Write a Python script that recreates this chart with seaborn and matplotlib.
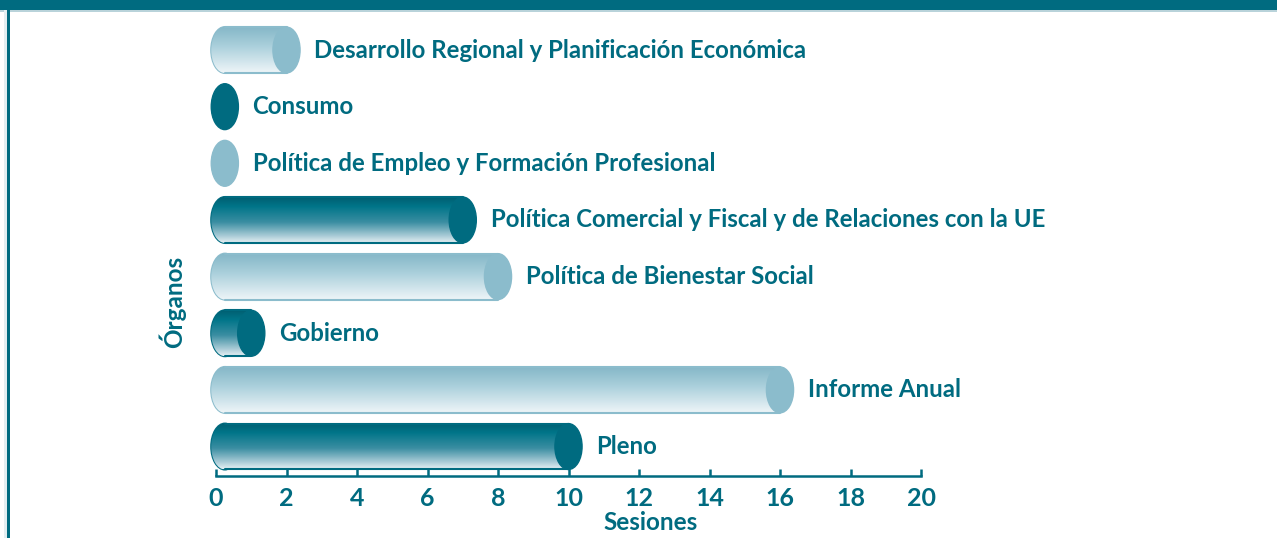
import numpy as np
import pandas as pd
import matplotlib
matplotlib.use("Agg")
import matplotlib.pyplot as plt
import seaborn as sns
from matplotlib.patches import Ellipse, Rectangle
from matplotlib.colors import LinearSegmentedColormap

# datos del gráfico
organos = [
    "Desarrollo Regional y Planificación Económica",
    "Consumo",
    "Política de Empleo y Formación Profesional",
    "Política Comercial y Fiscal y de Relaciones con la UE",
    "Política de Bienestar Social",
    "Gobierno",
    "Informe Anual",
    "Pleno",
]
sesiones = [2, 0, 0, 7, 8, 1, 16, 10]
tonos = ["claro", "oscuro", "claro", "oscuro", "claro", "oscuro", "claro", "oscuro"]
ticks_x = list(range(0, 21, 2))

TEAL = "#006b80"
CLARO = "#8bbccc"

sns.set_theme(style="white")
plt.rcParams["font.family"] = ["Lato", "DejaVu Sans"]

df = pd.DataFrame({"organo": organos, "sesiones": sesiones, "tono": tonos})

XMIN = -0.3
PX = 705 / 20  # píxeles por sesión
izq = 216 + XMIN * PX
fig = plt.figure(figsize=(12.77, 5.38), dpi=100)
ax = fig.add_axes([izq / 1277, 1 - 476 / 538, (921 - izq) / 1277, 456 / 538])

ALTO = 0.81
sns.barplot(data=df, x="sesiones", y="organo", hue="tono", orient="h",
            palette={"claro": CLARO, "oscuro": TEAL}, width=ALTO, dodge=False,
            legend=False, ax=ax)

ax.set_xlim(XMIN, 20)
ax.set_ylim(7.52, -0.53)

# gradientes de los cilindros (oscuro arriba, claro abajo)
grad_oscuro = LinearSegmentedColormap.from_list(
    "osc", [(0, "#005f72"), (0.2, "#007589"), (0.55, "#3b8ea2"), (0.85, "#a9cbd6"), (1, "#e4eff3")])
grad_claro = LinearSegmentedColormap.from_list(
    "cla", [(0, "#86b8c8"), (0.4, "#a9cfdb"), (1, "#eef5f8")])
grad = np.linspace(0, 1, 64).reshape(-1, 1)

X0 = 0.25      # centro del borde izquierdo
ANCHO = 0.77   # ancho de la elipse en unidades de datos

bars = sorted([p for p in ax.patches if isinstance(p, Rectangle)], key=lambda p: p.get_y())
for i, (p, v, t) in enumerate(zip(bars, sesiones, tonos)):
    yc = i
    cmap = grad_oscuro if t == "oscuro" else grad_claro
    borde = TEAL if t == "oscuro" else CLARO
    p.set_visible(False)
    xc = max(v, X0)
    if v > X0:
        # borde izquierdo
        el = Ellipse((X0, yc), ANCHO, ALTO, facecolor="none", edgecolor=borde, lw=1.5, zorder=2)
        ax.add_patch(el)
        im = ax.imshow(grad, cmap=cmap, aspect="auto", origin="upper",
                       extent=(X0 - ANCHO / 2, X0 + ANCHO / 2, yc + ALTO / 2, yc - ALTO / 2),
                       zorder=2, interpolation="bilinear")
        im.set_clip_path(el)
        cuerpo = Rectangle((X0, yc - ALTO / 2), v - X0, ALTO, facecolor="none", edgecolor="none")
        ax.add_patch(cuerpo)
        im2 = ax.imshow(grad, cmap=cmap, aspect="auto", origin="upper",
                        extent=(X0, v, yc + ALTO / 2, yc - ALTO / 2),
                        zorder=3, interpolation="bilinear")
        im2.set_clip_path(cuerpo)
        ax.plot([X0, v], [yc - ALTO / 2, yc - ALTO / 2], color=borde, lw=1.5, zorder=3.5)
        ax.plot([X0, v], [yc + ALTO / 2, yc + ALTO / 2], color=borde, lw=1.5, zorder=3.5)
    ax.add_patch(Ellipse((xc, yc), ANCHO, ALTO, facecolor=borde, edgecolor=borde, lw=1, zorder=4))
    ax.annotate(organos[i], xy=(xc, yc), xytext=(20, 0), textcoords="offset points",
                va="center", ha="left", fontsize=17.3, fontweight="bold", color=TEAL,
                annotation_clip=False)

ax.set_xticks(ticks_x)
ax.set_xticklabels([str(t) for t in ticks_x], fontsize=18, fontweight="bold", color=TEAL)
ax.set_yticks([])
ax.tick_params(axis="x", direction="in", length=5, width=1.8, color=TEAL, pad=8, bottom=True)
for s in ["left", "top", "right"]:
    ax.spines[s].set_visible(False)
ax.spines["bottom"].set_color(TEAL)
ax.spines["bottom"].set_linewidth(1.8)
ax.spines["bottom"].set_bounds(0, 20)
ax.set_facecolor("none")

ancho_ax = 921 - izq
ax.set_xlabel("Sesiones", fontsize=17.5, fontweight="bold", color=TEAL)
ax.xaxis.set_label_coords((651 - izq) / ancho_ax, -(523 - 476) / 456)
ax.xaxis.label.set_va("center")
ax.set_ylabel("Órganos", fontsize=17.5, fontweight="bold", color=TEAL)
ax.yaxis.set_label_coords(-(izq - 172) / ancho_ax, (476 - 302) / 456)
ax.yaxis.label.set_va("center")

# marco de la página
fig.add_artist(Rectangle((0, 1 - 10 / 538), 1, 10 / 538, transform=fig.transFigure,
                         facecolor=TEAL, edgecolor="none"))
fig.add_artist(Rectangle((0, 1 - 12 / 538), 1, 1.5 / 538, transform=fig.transFigure,
                         facecolor="#b9d3da", edgecolor="none"))
fig.add_artist(Rectangle((7 / 1277, 0), 2.5 / 1277, 1 - 10 / 538, transform=fig.transFigure,
                         facecolor=TEAL, edgecolor="none"))
fig.add_artist(Rectangle((4 / 1277, 0), 3 / 1277, 1 - 10 / 538, transform=fig.transFigure,
                         facecolor="#e3eef1", edgecolor="none"))

fig.savefig("out.png", dpi=100)
